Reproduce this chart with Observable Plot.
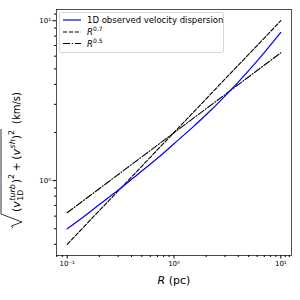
<!DOCTYPE html>
<html><head><meta charset="utf-8">
<script src="https://cdn.jsdelivr.net/npm/d3@7"></script>
<script src="https://cdn.jsdelivr.net/npm/@observablehq/plot@0.6"></script>
<style>body{margin:0;background:#fff;}</style>
</head><body><div id="chart"></div>
<script>
// Data
const radius = [0.1, 0.15, 0.2, 0.3, 0.5, 0.7, 1, 1.5, 2, 3, 5, 7, 10];
const sigmaObs = [0.50, 0.61, 0.71, 0.87, 1.15, 1.38, 1.70, 2.16, 2.58, 3.38, 4.88, 6.32, 8.45];
const powerR = [0.1, 10];
const pow07 = [0.40, 10.0];
const pow05 = [0.63, 6.3];
const xMajor = [0.1, 1, 10];
const xMajorLabels = ["10⁻¹", "10⁰", "10¹"];
const yMajor = [1, 10];
const yMajorLabels = ["10⁰", "10¹"];
const xMinor = [0.08, 0.09, 0.2, 0.3, 0.4, 0.5, 0.6, 0.7, 0.8, 0.9, 2, 3, 4, 5, 6, 7, 8, 9, 11, 12];
const yMinor = [0.4, 0.5, 0.6, 0.7, 0.8, 0.9, 2, 3, 4, 5, 6, 7, 8, 9, 11];
const seriesNames = ["1D observed velocity dispersion", "R^0.7", "R^0.5"];

const obsRows = radius.map((r, i) => ({r, v: sigmaObs[i]}));
const p07Rows = powerR.map((r, i) => ({r, v: pow07[i]}));
const p05Rows = powerR.map((r, i) => ({r, v: pow05[i]}));

const dashA = "4.1,1.8";
const dashDot = "7,1.8,1.1,1.8";
const FONT = "DejaVu Sans";

const plot = Plot.plot({
  width: 300, height: 300,
  marginLeft: 56, marginRight: 9, marginTop: 9, marginBottom: 45,
  style: {fontFamily: FONT, background: "white", color: "#000"},
  x: {type: "log", domain: [10 ** -1.1, 10 ** 1.1]},
  y: {type: "log", domain: [10 ** -0.468, 10 ** 1.07]},
  marks: [
    Plot.line(p07Rows, {x: "r", y: "v", stroke: "black", strokeWidth: 1.1, strokeDasharray: dashA}),
    Plot.line(p05Rows, {x: "r", y: "v", stroke: "black", strokeWidth: 1.1, strokeDasharray: dashDot}),
    Plot.line(obsRows, {x: "r", y: "v", stroke: "blue", strokeWidth: 1.2, curve: "monotone-x"}),
    Plot.frame({stroke: "#222", strokeWidth: 0.8}),
    Plot.axisX(xMajor, {tickSize: 3.5, tickPadding: 2, fontSize: 7, label: null,
      tickFormat: d => xMajorLabels[xMajor.indexOf(d)]}),
    Plot.axisX(xMinor, {tickSize: 2, tickFormat: () => "", label: null}),
    Plot.axisY(yMajor, {tickSize: 3.5, tickPadding: 2, fontSize: 7, label: null,
      tickFormat: d => yMajorLabels[yMajor.indexOf(d)]}),
    Plot.axisY(yMinor, {tickSize: 2, tickFormat: () => "", label: null})
  ]
});
document.getElementById("chart").appendChild(plot);

const svg = d3.select(plot);

// x label
const xl = svg.append("text").attr("x", 174).attr("y", 284)
  .attr("text-anchor", "middle").attr("font-size", 11).attr("font-family", FONT);
xl.append("tspan").attr("font-style", "italic").text("R");
xl.append("tspan").text(" (pc)");

// legend
const lg = svg.append("g").attr("font-family", FONT).attr("font-size", 8.5).attr("text-anchor", "start");
lg.append("rect").attr("x", 59.5).attr("y", 12.5).attr("width", 164).attr("height", 40)
  .attr("rx", 2).attr("fill", "white").attr("fill-opacity", 0.8).attr("stroke", "#ccc").attr("stroke-width", 0.8);
const entries = [
  {y: 20, stroke: "blue", dash: null},
  {y: 32, stroke: "black", dash: dashA},
  {y: 43.5, stroke: "black", dash: dashDot}
];
entries.forEach((e, i) => {
  lg.append("line").attr("x1", 63).attr("x2", 81).attr("y1", e.y).attr("y2", e.y)
    .attr("stroke", e.stroke).attr("stroke-width", i === 0 ? 1.2 : 1.1)
    .attr("stroke-dasharray", e.dash);
  const t = lg.append("text").attr("x", 87).attr("y", e.y + 3).attr("text-anchor", "start");
  if (i === 0) t.text(seriesNames[0]);
  else {
    const [base, exp] = seriesNames[i].split("^");
    t.append("tspan").attr("font-style", "italic").text(base);
    t.append("tspan").attr("font-size", 6).attr("dy", -4).text(exp);
  }
});

// y label (rotated, with radical)
const f = 11;
const fk = 10;
const yg = svg.append("g").attr("transform", "translate(20,228) rotate(-90)")
  .attr("font-family", FONT).attr("font-size", f).attr("fill", "black").attr("text-anchor", "start");
let cur = 16;
function piece(txt, opts = {}) {
  const t = yg.append("text").attr("x", cur).attr("y", opts.dy || 0)
    .attr("text-anchor", "start")
    .attr("font-size", opts.size || f).attr("font-style", opts.italic ? "italic" : "normal")
    .attr("xml:space", "preserve").text(txt);
  const w = t.node().getComputedTextLength();
  if (!opts.noAdvance) cur += w;
  return w;
}
piece("(");
piece("v", {italic: true});
cur += 0.5;
const w1 = piece("turb", {size: 0.72 * f, dy: -0.5 * f, italic: true, noAdvance: true});
const w2 = piece("1D", {size: 0.72 * f, dy: 0.3 * f, noAdvance: true});
cur += Math.max(w1, w2) + 1;
piece(")");
piece("2", {size: 0.72 * f, dy: -0.55 * f});
cur += 2.5;
piece("+");
cur += 2.5;
piece("(");
piece("v", {italic: true});
cur += 0.5;
piece("sh", {size: 0.72 * f, dy: -0.5 * f, italic: true});
piece(")");
piece("2", {size: 0.72 * f, dy: -0.55 * f});
const endRad = cur + 1;
cur += 6;
piece("(km/s)", {size: fk});
yg.append("path")
  .attr("d", `M0,-7 L2,-8.5 L6,2 L14,-19 H${endRad}`)
  .attr("fill", "none").attr("stroke", "black").attr("stroke-width", 0.8);
</script>
</body></html>
